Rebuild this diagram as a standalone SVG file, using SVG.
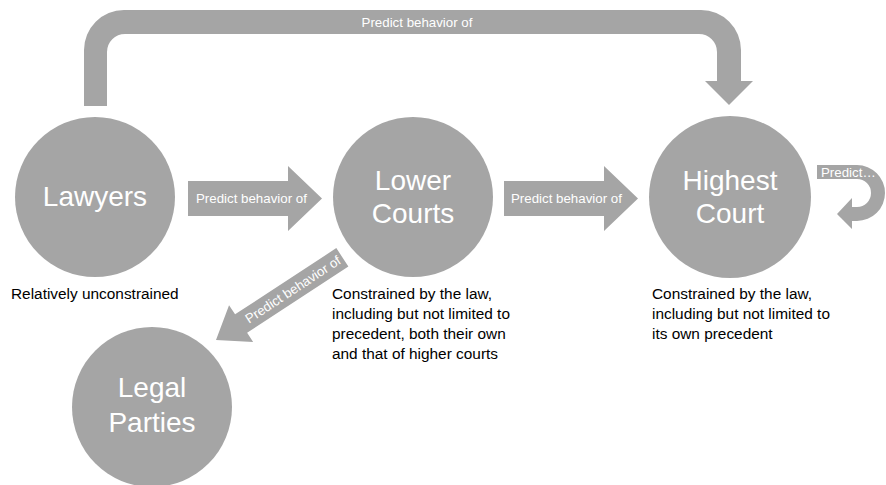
<svg xmlns="http://www.w3.org/2000/svg" width="886" height="485" viewBox="0 0 886 485">
<style>
.shape{fill:#a5a5a5}
.big{font-family:"Liberation Sans",Arial,sans-serif;font-size:28px;fill:#ffffff;text-anchor:middle}
.lbl{font-family:"Liberation Sans",Arial,sans-serif;font-size:13.3px;fill:#ffffff}
.desc{font-family:"Liberation Sans",Arial,sans-serif;font-size:15.4px;fill:#000000}
</style>
<rect width="886" height="485" fill="#ffffff"/>
<g id="connectors">
  <g id="arrow-top">
    <path class="shape" d="M84,106 L84,50 A40,40 0 0 1 124,10 L701,10 A40,40 0 0 1 741,50 L741,81 L753,81 L729,105 L705,81 L717,81 L717,52 A18,18 0 0 0 699,34 L125,34 A18,18 0 0 0 107,52 L107,106 Z"/>
    <text class="lbl" x="417" y="27" text-anchor="middle">Predict behavior of</text>
  </g>
  <g id="arrow-lawyers-lower">
    <path class="shape" d="M188,181 L288,181 L288,166 L322,198.5 L288,231 L288,216 L188,216 Z"/>
    <text class="lbl" x="196" y="203">Predict behavior of</text>
  </g>
  <g id="arrow-lower-highest">
    <path class="shape" d="M504,181 L604,181 L604,166 L638,198.5 L604,231 L604,216 L504,216 Z"/>
    <text class="lbl" x="511" y="203">Predict behavior of</text>
  </g>
  <g id="arrow-lower-parties" transform="translate(216,340) rotate(-33.2)">
    <path class="shape" d="M0,0 L30,-22 L30,-11 L151,-11 L151,11 L30,11 L30,22 Z"/>
    <text class="lbl" x="92" y="4.5" text-anchor="middle">Predict behavior of</text>
  </g>
  <g id="arrow-self">
    <path class="shape" d="M817,165 L857,165 A28,28 0 0 1 857,221 L852,221 L852,229 L837,214 L852,198 L852,207 L857,207 A14,14 0 0 0 857,179 L817,179 Z"/>
    <text class="lbl" x="821" y="176.5">Predict…</text>
  </g>
</g>
<g id="node-lawyers">
  <circle class="shape" cx="95" cy="197" r="80"/>
  <text class="big" x="95" y="206">Lawyers</text>
  <text class="desc" x="11" y="299">Relatively unconstrained</text>
</g>
<g id="node-lower-courts">
  <circle class="shape" cx="413" cy="197" r="80"/>
  <text class="big" x="413" y="190">Lower</text>
  <text class="big" x="413" y="223">Courts</text>
  <text class="desc" x="332" y="299">Constrained by the law,</text>
  <text class="desc" x="332" y="319">including but not limited to</text>
  <text class="desc" x="332" y="339">precedent, both their own</text>
  <text class="desc" x="332" y="359">and that of higher courts</text>
</g>
<g id="node-highest-court">
  <circle class="shape" cx="730" cy="197" r="81"/>
  <text class="big" x="730" y="190">Highest</text>
  <text class="big" x="730" y="223">Court</text>
  <text class="desc" x="652" y="299">Constrained by the law,</text>
  <text class="desc" x="652" y="319">including but not limited to</text>
  <text class="desc" x="652" y="339">its own precedent</text>
</g>
<g id="node-legal-parties">
  <circle class="shape" cx="152" cy="407" r="80"/>
  <text class="big" x="152" y="397">Legal</text>
  <text class="big" x="152" y="432">Parties</text>
</g>
</svg>
